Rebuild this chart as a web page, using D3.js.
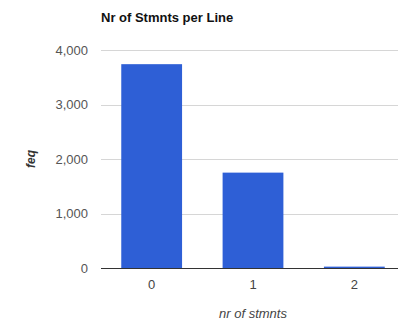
<!DOCTYPE html>
<html>
<head>
<meta charset="utf-8">
<script src="https://cdn.jsdelivr.net/npm/d3@7"></script>
<style>
  body { margin: 0; background: #fff; }
  svg { display: block; font-family: "Liberation Sans", Arial, sans-serif; }
</style>
</head>
<body>
<svg id="chart" width="398" height="325"></svg>
<script>
// Statement counts per source line
const categories = ["0", "1", "2"];
const freq = [3740, 1750, 25];
const yTicks = [0, 1000, 2000, 3000, 4000];

const svg = d3.select("#chart");
const margin = { left: 101, right: -7, top: 50, bottom: 57 };
const W = 398, H = 325;

const x = d3.scaleBand()
  .domain(categories)
  .range([margin.left, W - margin.right])
  .paddingInner(0.4)
  .paddingOuter(0.2);

const y = d3.scaleLinear()
  .domain([0, 4000])
  .range([H - margin.bottom, margin.top]);

// gridlines
svg.append("g")
  .selectAll("line")
  .data(yTicks.filter(d => d > 0))
  .join("line")
  .attr("x1", margin.left)
  .attr("x2", W)
  .attr("y1", d => Math.round(y(d)) + 0.5)
  .attr("y2", d => Math.round(y(d)) + 0.5)
  .attr("stroke", "#d6d6d6")
  .attr("stroke-width", 1);

// y tick labels
const yAxis = d3.axisLeft(y).tickValues(yTicks).tickFormat(d3.format(",")).tickSize(0).tickPadding(13);
svg.append("g")
  .attr("transform", `translate(${margin.left},0)`)
  .call(yAxis)
  .call(g => g.select(".domain").remove())
  .call(g => g.selectAll("text").attr("fill", "#555").attr("font-size", 13));

// bars
svg.append("g")
  .selectAll("rect")
  .data(categories.map((c, i) => ({ c, v: freq[i] })))
  .join("rect")
  .attr("x", d => x(d.c))
  .attr("width", x.bandwidth())
  .attr("y", d => y(d.v))
  .attr("height", d => y(0) - y(d.v))
  .attr("fill", "#2e5fd6");

// baseline
svg.append("line")
  .attr("x1", margin.left)
  .attr("x2", W)
  .attr("y1", Math.round(y(0)) + 0.5)
  .attr("y2", Math.round(y(0)) + 0.5)
  .attr("stroke", "#333")
  .attr("stroke-width", 1);

// x tick labels
const xAxis = d3.axisBottom(x).tickSize(0).tickPadding(12);
svg.append("g")
  .attr("transform", `translate(0,${y(0)})`)
  .call(xAxis)
  .call(g => g.select(".domain").remove())
  .call(g => g.selectAll("text").attr("fill", "#444").attr("font-size", 13));

// title
svg.append("text")
  .attr("x", margin.left)
  .attr("y", 22)
  .attr("font-weight", "bold")
  .attr("font-size", 13)
  .attr("fill", "#111")
  .text("Nr of Stmnts per Line");

// axis titles
svg.append("text")
  .attr("x", x("1") + x.bandwidth() / 2)
  .attr("y", 318)
  .attr("text-anchor", "middle")
  .attr("font-style", "italic")
  .attr("font-size", 13)
  .attr("fill", "#444")
  .text("nr of stmnts");

svg.append("text")
  .attr("transform", `translate(35,${(y(0) + y(4000)) / 2}) rotate(-90)`)
  .attr("text-anchor", "middle")
  .attr("font-style", "italic")
  .attr("font-weight", "bold")
  .attr("font-size", 12)
  .attr("fill", "#333")
  .text("feq");
</script>
</body>
</html>
